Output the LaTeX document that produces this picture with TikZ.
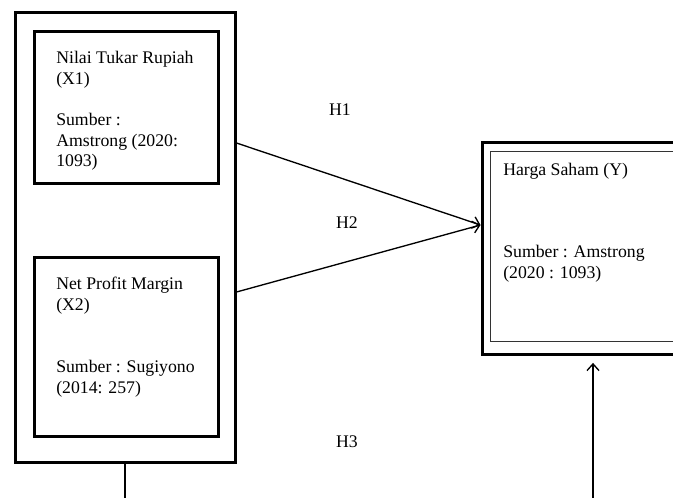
\documentclass[tikz,border=0pt]{standalone}
\usepackage{fontspec}
\setmainfont{Liberation Serif}
\usetikzlibrary{positioning}
\usetikzlibrary{arrows.meta}

\begin{document}
\begin{tikzpicture}[x=0.75pt, y=-0.75pt, >={Straight Barb[length=5pt,width=9pt]}]
	\tikzstyle{outer}=[rectangle, draw=black, line width=2.25pt]
	\tikzstyle{varbox}=[rectangle, draw=black, line width=2.25pt, minimum width=138pt]
	\tikzstyle{inner}=[rectangle, draw=black!80, line width=0.75pt]
	\tikzstyle{txt}=[anchor=north west, inner sep=0pt, align=left, font=\fontsize{13.3}{15.5}\selectfont]
	\tikzstyle{hyp}=[font=\fontsize{13.3}{15.5}\selectfont]
	\tikzstyle{link}=[line width=1pt]
	
	\useasboundingbox (0,0) rectangle (673,497);
	\clip (0,0) rectangle (673,497);
	
	% variabel X
	\draw node at (125,237.5) [outer, minimum width=165pt, minimum height=338pt] (xbox) {};
	\draw node at (126,107) [varbox, minimum height=114pt] (x1) {};
	\node at (56,51) [txt] (x1t) {Nilai Tukar Rupiah\\(X1)\\[15.5pt]Sumber :\\Amstrong (2020:\\1093)};
	\draw node at (126,346.7) [varbox, minimum height=134.5pt] (x2) {};
	\node at (56,277) [txt] (x2t) {Net Profit Margin\\(X2)\\[31pt]Sumber : Sugiyono\\(2014: 257)};
	
	% variabel Y
	\draw node at (593,248.75) [outer, minimum width=166.5pt, minimum height=159pt] (y) {};
	\draw node at (593,246.5) [inner, minimum width=153.75pt, minimum height=142pt] (yin) {};
	\node at (503,162.7) [txt] (yt) {Harga Saham (Y)\\[46.5pt]Sumber : Amstrong\\(2020 : 1093)};
	
	\coordinate (a1) at (xbox.east |- 0,143);
	\coordinate (a2) at (xbox.east |- 0,292);
	\coordinate (ain) at (y.west |- 0,225);
	\draw [->, link] (a1) -- (ain);
	\draw [->, link] (a2) -- (ain);
	
	\coordinate (xend) at (xbox.south |- 0,500);
	\coordinate (yend) at (y.south |- 0,500);
	\draw [link] (xbox.south) -- (xend);
	\draw [->, link, shorten >=5pt] (yend) -- (y.south);
	
	\node at (340,110) [hyp] (h1) {H1};
	\node at (347,223) [hyp] (h2) {H2};
	\node at (347,442) [hyp] (h3) {H3};
\end{tikzpicture}
\end{document}
